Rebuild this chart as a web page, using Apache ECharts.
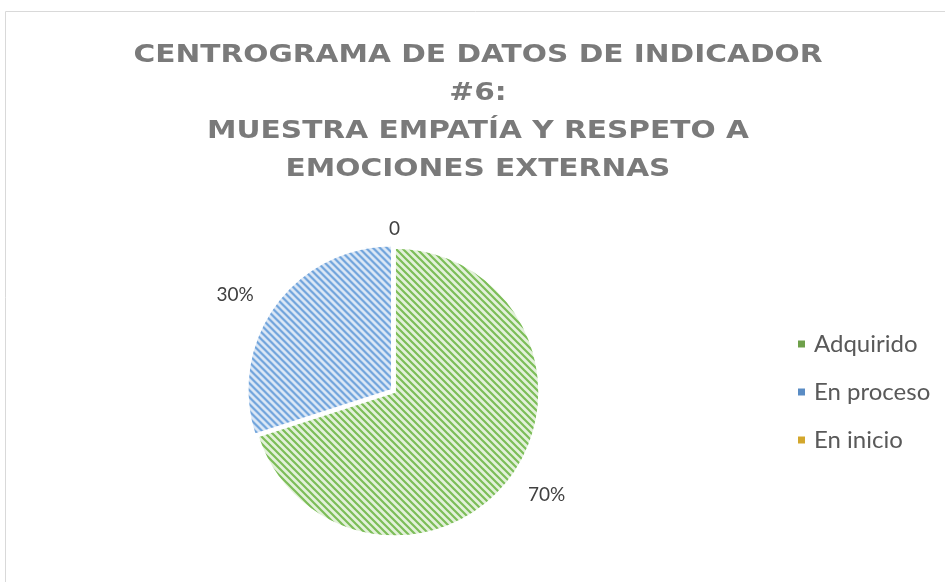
<!DOCTYPE html>
<html>
<head>
<meta charset="utf-8">
<script src="https://cdn.jsdelivr.net/npm/echarts@6/dist/echarts.min.js"></script>
<style>html,body{margin:0;padding:0;background:#fff}#c{width:945px;height:582px}</style>
</head>
<body>
<div id="c"></div>
<script>
const categories = ['Adquirido', 'En proceso', 'En inicio'];
const values = [70, 30, 0];
const titleLines = ['CENTROGRAMA DE DATOS DE INDICADOR', '#6:', 'MUESTRA EMPATÍA Y RESPETO A', 'EMOCIONES EXTERNAS'];

function makePattern(bg, fg) {
  const s = 7;
  const cv = document.createElement('canvas');
  cv.width = s; cv.height = s;
  const g = cv.getContext('2d');
  g.fillStyle = bg; g.fillRect(0, 0, s, s);
  g.strokeStyle = fg; g.lineWidth = 2.2;
  g.beginPath();
  for (let k = -1; k <= 1; k++) {
    g.moveTo(k * s - 1, -1); g.lineTo(k * s + s + 1, s + 1);
  }
  g.stroke();
  return { image: cv, repeat: 'repeat' };
}
const pats = [
  makePattern('#e3f1da', '#7cbd58'),
  makePattern('#dfeaf7', '#6aa0da'),
  makePattern('#fbecc0', '#d9a821')
];
const solid = ['#6ea04a', '#5a8cc4', '#d3a72c'];

const chart = echarts.init(document.getElementById('c'), null, { renderer: 'canvas' });
chart.setOption({
  animation: false,
  graphic: [{
    type: 'rect', shape: { x: 5.5, y: 11.5, width: 960, height: 600 },
    style: { fill: 'none', stroke: '#d9d9d9', lineWidth: 1 }, silent: true
  }].concat(titleLines.map((t, i) => ({
    type: 'text', x: 478, y: 55 + i * 38.3, scaleX: 1.185, silent: true,
    style: {
      text: t, align: 'center', verticalAlign: 'middle',
      font: 'bold 25px "DejaVu Sans"', fill: '#7a7a7a'
    }
  }))),
  legend: {
    orient: 'vertical', left: 791, top: 327,
    itemWidth: 9, itemHeight: 9, itemGap: 24,
    icon: 'rect',
    textStyle: { fontFamily: 'Lato', fontSize: 24, color: '#595959', padding: [0, 0, 0, 3] },
    data: categories.map((c, i) => ({ name: c, itemStyle: { color: solid[i] } }))
  },
  series: [{
    type: 'pie',
    center: [395, 392], radius: 144,
    startAngle: 90, clockwise: true,
    avoidLabelOverlap: false,
    selectedMode: 'multiple', selectedOffset: 4,
    itemStyle: { borderColor: '#ffffff', borderWidth: 1.5 },
    label: {
      position: 'outside', fontFamily: 'Lato', fontSize: 19, color: '#404040',
      formatter: p => p.value === 0 ? '0' : p.value + '%'
    },
    labelLine: { show: false, length: 18, length2: 2 },
    emphasis: { disabled: true },
    data: categories.map((c, i) => ({
      name: c, value: values[i], selected: i === 1,
      itemStyle: { color: pats[i] },
      label: i === 0 ? { offset: [-5, 8] } : (i === 1 ? { offset: [4, -3] } : { offset: [12, -1] })
    }))
  }]
});
</script>
</body>
</html>
